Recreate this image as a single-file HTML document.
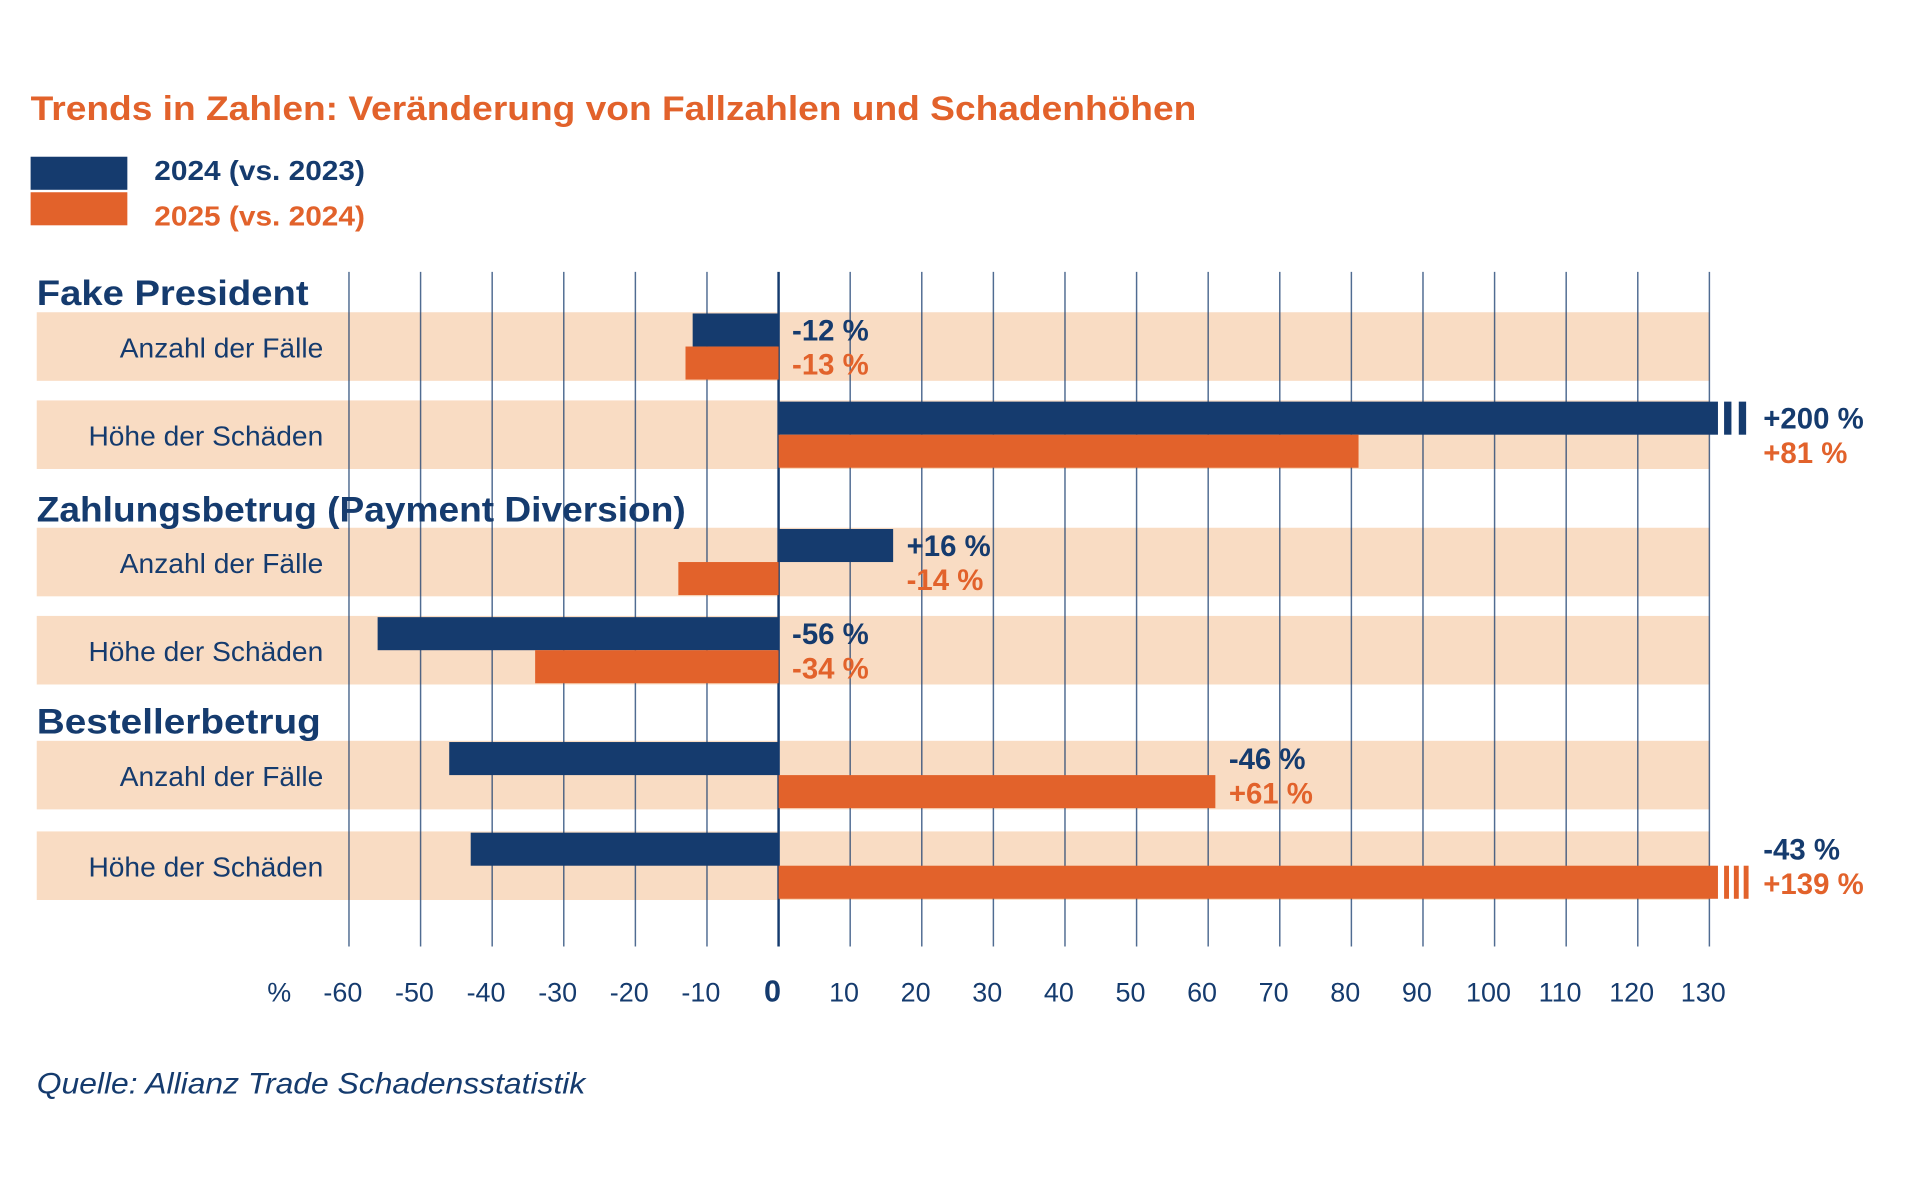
<!DOCTYPE html>
<html><head><meta charset="utf-8"><style>
html,body{margin:0;padding:0;background:#fff;width:1920px;height:1200px;overflow:hidden}
svg{display:block}
text{font-family:"Liberation Sans",sans-serif}
</style></head><body>
<svg id="chart" width="1920" height="1200" viewBox="0 0 1568 980" xmlns="http://www.w3.org/2000/svg">
<text x="25" y="98" font-size="28" font-weight="bold" fill="#e2622b" textLength="952" lengthAdjust="spacingAndGlyphs">Trends in Zahlen: Veränderung von Fallzahlen und Schadenhöhen</text>
<g>
<rect x="25" y="128" width="79" height="27" fill="#153b6e"/>
<rect x="25" y="157" width="79" height="27" fill="#e2622b"/>
<text x="126" y="147" font-size="23" font-weight="bold" fill="#153b6e" textLength="172" lengthAdjust="spacingAndGlyphs">2024 (vs. 2023)</text>
<text x="126" y="184" font-size="23" font-weight="bold" fill="#e2622b" textLength="172" lengthAdjust="spacingAndGlyphs">2025 (vs. 2024)</text>
</g>
<g id="bands"></g><g id="grid"></g><g id="bars"></g><g id="labels"></g>
<text x="30" y="893" font-size="24" font-style="italic" fill="#153b6e" textLength="448" lengthAdjust="spacingAndGlyphs">Quelle: Allianz Trade Schadensstatistik</text>
</svg>
<script>
const groups = ["Fake President","Zahlungsbetrug (Payment Diversion)","Bestellerbetrug"];
const rowLabels = ["Anzahl der Fälle","Höhe der Schäden"];
const values2024 = [-12, 200, 16, -56, -46, -43];
const values2025 = [-13, 81, -14, -34, 61, 139];
const ticks = [-60,-50,-40,-30,-20,-10,0,10,20,30,40,50,60,70,80,90,100,110,120,130];

const NS="http://www.w3.org/2000/svg";
const X0=285, XMIN=-60, XMAX=130, X1=1396;
const xs=v=>X0+(v-XMIN)*(X1-X0)/(XMAX-XMIN);
const navy="#153b6e", orange="#e2622b";
const rowTops=[255,327,431,503,605,679], rowH=56;
const headY=[249,426,599];
const headW=[222,530,232];
function el(tag,attrs,parent,txt){const e=document.createElementNS(NS,tag);for(const k in attrs)e.setAttribute(k,attrs[k]);if(txt!==undefined)e.textContent=txt;parent.appendChild(e);return e;}
const gb=document.getElementById('bands'),gg=document.getElementById('grid'),gr=document.getElementById('bars'),gl=document.getElementById('labels');
const svg=document.getElementById('chart');
groups.forEach((g,i)=>{
  const t=el('text',{x:30,y:headY[i],'font-size':29,'font-weight':'bold',fill:navy,textLength:headW[i],lengthAdjust:'spacingAndGlyphs'},svg,g);
  
  
});
for(let r=0;r<6;r++){
  const y=rowTops[r];
  const b=el('rect',{x:30,y:y,width:X1-30,height:rowH,fill:'#f9dcc3'},gb);
  
  
  const t=el('text',{x:264,y:y+37,'text-anchor':'end','font-size':23,fill:navy},gl,rowLabels[r%2]);
  
  
}
ticks.forEach(v=>{
  const x=xs(v);
  const l=el('line',{x1:x,x2:x,y1:222,y2:773,stroke:navy,'stroke-width':v===0?2:1.2,'stroke-opacity':v===0?1:0.75},gg);
  
  
  const t=el('text',{x:x-5,y:818,'text-anchor':'middle','font-size':v===0?25:22,'font-weight':v===0?'bold':'normal',fill:navy},gl,String(v));
  
  
});
const pc=el('text',{x:228,y:818,'text-anchor':'middle','font-size':22,fill:navy},gl,'%');


const fmt=v=>(v>0?'+':'')+v+' %';
for(let r=0;r<6;r++){
  const top=rowTops[r];
  const vals=[values2024[r],values2025[r]];
  const cols=[navy,orange];
  let maxEnd=0;
  vals.forEach((v,k)=>{
    const clipped=Math.max(XMIN,Math.min(XMAX,v));
    const a=xs(Math.min(0,clipped)),bb=xs(Math.max(0,clipped));
    const broken=v>XMAX;
    const w=(bb-a)+(broken?7:0);
    const y=top+k*rowH/2+(k===0?1:0);
    const rc=el('rect',{x:a,y:y,width:w,height:rowH/2-1,fill:cols[k]},gr);
    
    
    if(broken){
      const n=k===0?2:3, bw=k===0?6:4, gap=k===0?6:4;
      for(let j=0;j<n;j++){
        const m=el('rect',{x:xs(XMAX)+7+5+j*(bw+gap),y:y,width:bw,height:rowH/2-1,fill:cols[k]},gr);
        
        
      }
    }
    maxEnd=Math.max(maxEnd,Math.min(XMAX,Math.max(0,v)));
  });
  const anyBroken=vals.some(v=>v>XMAX);
  const lx=anyBroken?1440:xs(maxEnd)+11;
  vals.forEach((v,k)=>{
    const t=el('text',{x:lx,y:top+(k===0?23:51),'font-size':24,'font-weight':'bold',fill:cols[k]},gl,fmt(v));
    
    
  });
}
</script>
</body></html>
